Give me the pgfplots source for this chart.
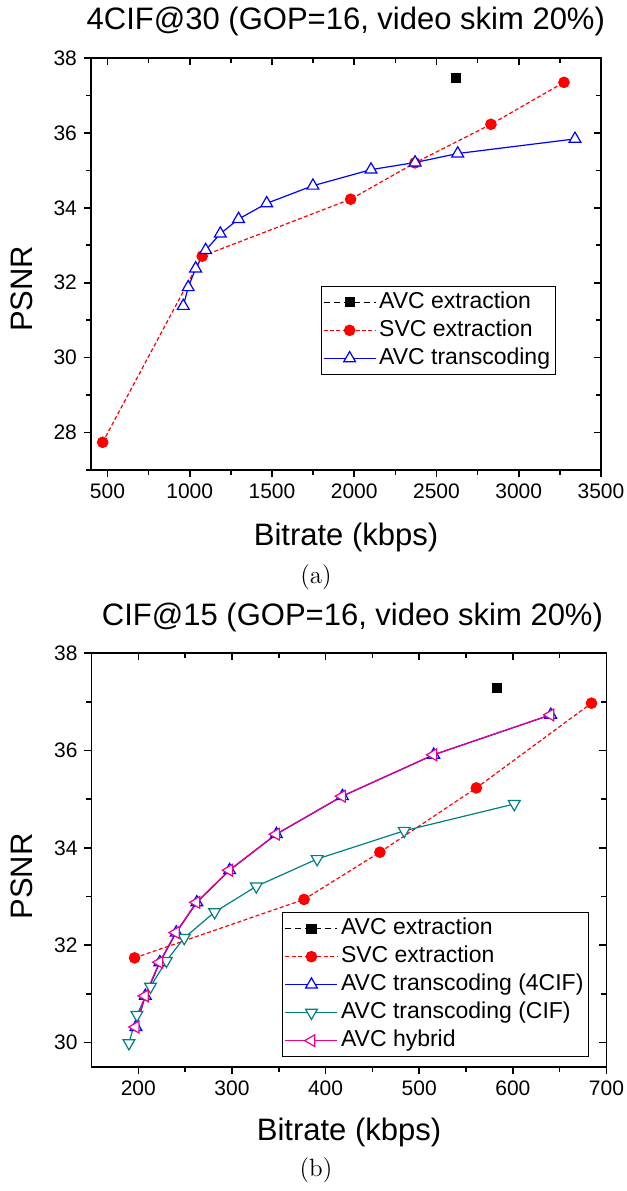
\documentclass[border=0pt]{standalone}
\usepackage{fontspec}
\newfontfamily\arial{Liberation Sans}
\usepackage{pgfplots}
\pgfplotsset{compat=1.18}

\pgfplotsset{
  base/.style={
    scale only axis,
    axis line style={line width=0.8pt},
    tick style={black, line width=0.8pt},
    major tick length=3.5pt,
    minor tick length=2.5pt,
    scaled ticks=false,
    /pgf/number format/1000 sep={},
    /pgf/number format/assume math mode=true,
    tick label style={font=\arial\fontsize{10.5}{12}\selectfont},
    label style={font=\arial\fontsize{15.5}{18}\selectfont},
  },
  main/.style={base, xtick pos=left, ytick pos=left, tick align=outside,
    legend cell align=left,
    legend style={draw=black, line width=0.5pt, inner sep=1pt, row sep=0pt,
      font=\arial\fontsize{11.5}{13}\selectfont,
      nodes={inner sep=1.5pt, text height=8.5pt, text depth=2.5pt}},
    legend image code/.code={
      \draw[mark repeat=2, mark phase=2] plot coordinates {(0pt,0pt) (13pt,0pt) (26pt,0pt)};},
  },
  mirror/.style={base, xtick pos=right, ytick pos=right, tick align=inside,
    xticklabels={}, yticklabels={}, axis line style={draw=none}},
  avcx/.style={black, densely dashed, line width=0.6pt, mark=square*, mark size=2.25pt, mark options={solid}},
  svcx/.style={red, dash pattern=on 2pt off 1.2pt, line width=0.6pt, mark=*, mark size=2.6pt, mark options={solid}},
  tri/.style={line width=0.6pt, mark=triangle*, mark size=3.4pt},
}

\begin{document}
\begin{tikzpicture}
\useasboundingbox (0pt,0pt) rectangle (313.5pt,-595.5pt);

% ---------- (a) 4CIF@30 ----------
\node[font=\arial\fontsize{15.5}{18}\selectfont, anchor=east] at (306pt,-10.5pt) {4CIF@30 (GOP=16, video skim 20\%)};

\begin{axis}[main,
  at={(45.5pt,-29pt)}, anchor=north west, width=255pt, height=206pt,
  xmin=400, xmax=3500, ymin=27, ymax=38,
  xtick={500,1000,...,3500}, minor xtick={750,1250,...,3250},
  ytick={28,30,...,38}, minor ytick={27,29,...,37},
  xlabel={Bitrate (kbps)}, ylabel={PSNR},
  xlabel style={at={(axis description cs:0.5,-0.163)}, anchor=center},
  ylabel style={at={(axis description cs:-0.135,0.44)}, anchor=center},
  legend style={at={(axis description cs:0.911,0.447)}, anchor=north east},
]
\addplot[avcx] coordinates {(2618,37.46)};
\addlegendentry{AVC extraction}
\addplot[svcx] coordinates {
  (471,27.74) (1076,32.71) (1978,34.23) (2369,35.20) (2831,36.23) (3275,37.35)};
\addlegendentry{SVC extraction}
\addplot[tri, blue, mark options={solid, fill=white, draw=blue}] coordinates {
  (961,31.38) (991,31.88) (1036,32.38) (1097,32.87) (1186,33.31) (1297,33.70)
  (1468,34.12) (1749,34.59) (2102,35.02) (2370,35.21) (2629,35.45) (3342,35.84)};
\addlegendentry{AVC transcoding}
\end{axis}
\begin{axis}[mirror,
  at={(45.5pt,-29pt)}, anchor=north west, width=255pt, height=206pt,
  xmin=400, xmax=3500, ymin=27, ymax=38,
  xtick={500,1000,...,3500}, minor xtick={750,1250,...,3250},
  ytick={28,30,...,38}, minor ytick={27,29,...,37},
]
\end{axis}

\node[font=\fontsize{12.5}{14}\selectfont] at (158pt,-288.5pt) {(a)};

% ---------- (b) CIF@15 ----------
\node[font=\arial\fontsize{15.5}{18}\selectfont, anchor=east] at (305pt,-308.5pt) {CIF@15 (GOP=16, video skim 20\%)};

\begin{axis}[main,
  at={(45.75pt,-326.5pt)}, anchor=north west, width=257.5pt, height=207pt,
  xmin=150, xmax=700, ymin=29.5, ymax=38,
  xtick={200,300,...,700}, minor xtick={250,350,...,650},
  ytick={30,32,...,38}, minor ytick={31,33,...,37},
  xlabel={Bitrate (kbps)}, ylabel={PSNR},
  xlabel style={at={(axis description cs:0.5,-0.159)}, anchor=center},
  ylabel style={at={(axis description cs:-0.135,0.46)}, anchor=center},
  legend style={at={(axis description cs:0.966,0.374)}, anchor=north east},
]
\addplot[avcx] coordinates {(583,37.28)};
\addlegendentry{AVC extraction}
\addplot[svcx] coordinates {
  (196,31.74) (377,32.94) (458,33.91) (561,35.23) (684,36.97)};
\addlegendentry{SVC extraction}
\addplot[tri, blue, mark options={solid, fill=white, draw=blue}] coordinates {
  (197.5,30.32) (207.5,30.96) (223,31.65) (240.5,32.26) (262.5,32.88)
  (297.5,33.54) (347.5,34.28) (418,35.06) (515.5,35.91) (640.5,36.73)};
\addlegendentry{AVC transcoding (4CIF)}
\addplot[tri, teal, mark options={solid, fill=white, draw=teal, rotate=180}] coordinates {
  (190,29.99) (198.5,30.57) (213,31.15) (230,31.68) (249,32.15)
  (281.5,32.68) (326,33.21) (391,33.77) (484,34.35) (601.5,34.90)};
\addlegendentry{AVC transcoding (CIF)}
\addplot[tri, magenta, mark options={solid, fill=white, draw=magenta, rotate=90}] coordinates {
  (197,30.32) (207,30.96) (222.5,31.65) (240,32.26) (262,32.88)
  (297,33.54) (347,34.28) (417.5,35.06) (515,35.91) (640,36.73)};
\addlegendentry{AVC hybrid}
\end{axis}
\begin{axis}[mirror,
  at={(45.75pt,-326.5pt)}, anchor=north west, width=257.5pt, height=207pt,
  xmin=150, xmax=700, ymin=29.5, ymax=38,
  xtick={200,300,...,700}, minor xtick={250,350,...,650},
  ytick={30,32,...,38}, minor ytick={31,33,...,37},
]
\end{axis}

\node[font=\fontsize{12.5}{14}\selectfont] at (158pt,-585pt) {(b)};
\end{tikzpicture}
\end{document}
